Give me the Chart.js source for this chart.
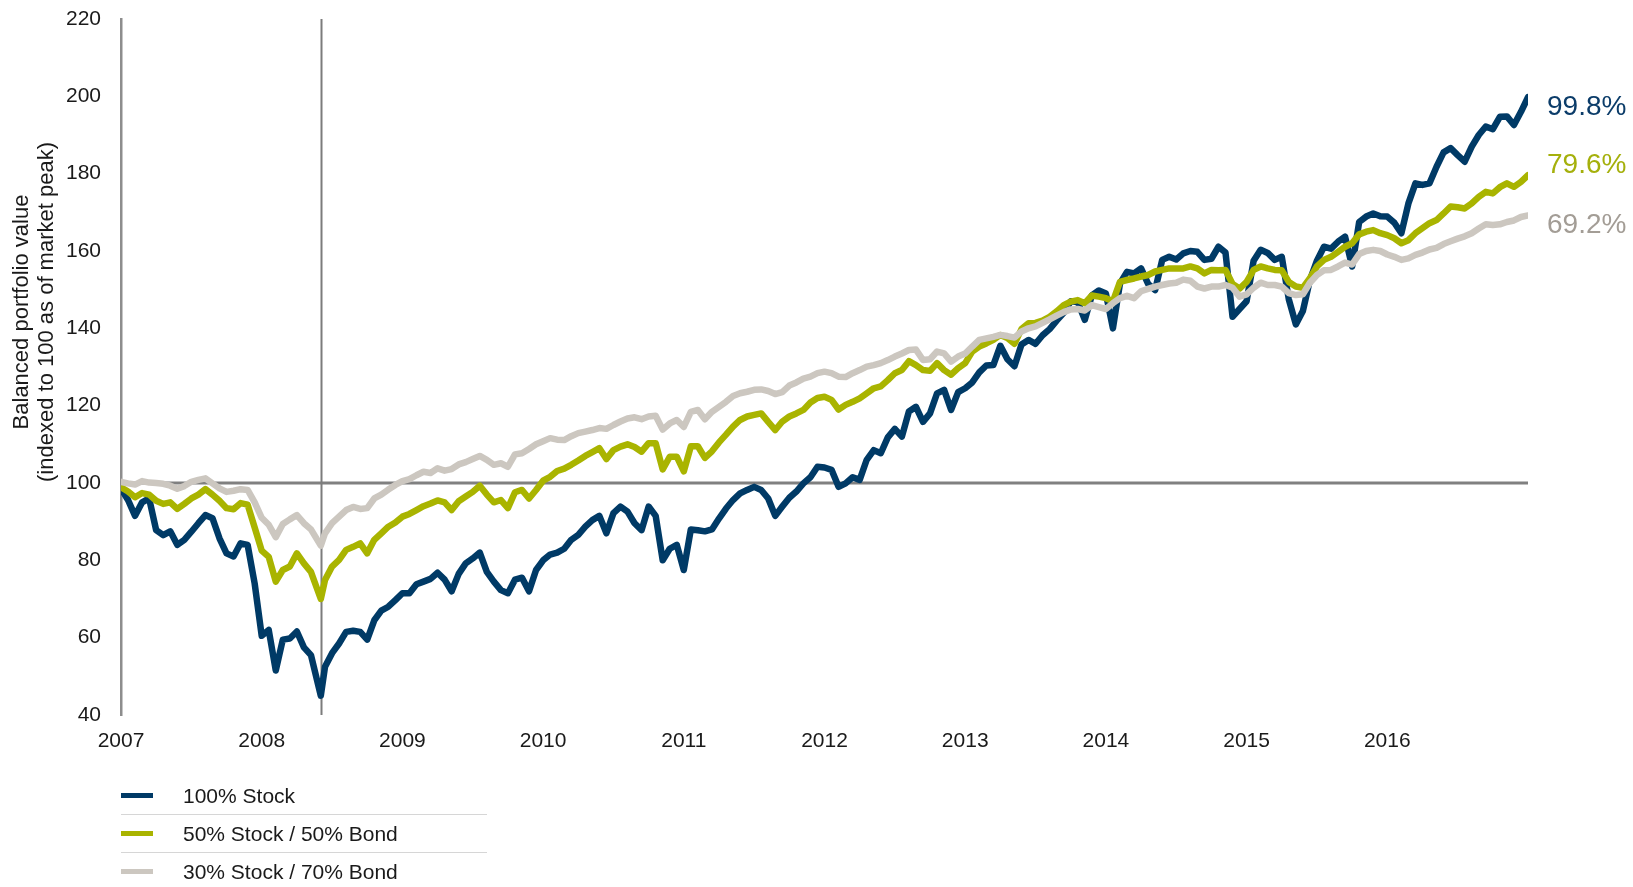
<!DOCTYPE html>
<html>
<head>
<meta charset="utf-8">
<script src="https://cdn.jsdelivr.net/npm/chart.js@4.4.1/dist/chart.umd.min.js"></script>
<style>
  html, body { margin: 0; padding: 0; background: #fff; }
  #wrap { position: relative; width: 1633px; height: 887px; overflow: hidden; }
  #chart { position: absolute; left: 0; top: 0; }
  .legend {
    position: absolute; left: 121px; top: 777px; width: 366px;
    font-family: "Liberation Sans", Arial, sans-serif; font-size: 21px; color: #1a1a1a;
  }
  .legend .row { position: relative; height: 37px; line-height: 37px; border-bottom: 1.5px solid #d6d6d6; }
  .legend .row:last-child { border-bottom: none; }
  .legend .swatch { position: absolute; left: 0; top: 16px; width: 32px; height: 4.5px; }
  .legend .label { position: absolute; left: 62px; top: 0; white-space: nowrap; }
</style>
</head>
<body>
<div id="wrap">
  <canvas id="chart" width="1633" height="887"></canvas>
  <div class="legend" id="legend"></div>
</div>
<script>
// sampling dates (decimal years), one reading every ~0.05 year
const dates = [
  2007, 2007.05, 2007.1, 2007.15, 2007.2, 2007.25, 2007.3, 2007.35, 2007.4, 2007.45, 2007.5, 2007.55, 2007.6, 2007.65, 2007.7, 2007.75, 2007.8, 2007.85, 2007.9, 2007.95,
  2008, 2008.05, 2008.1, 2008.15, 2008.2, 2008.25, 2008.3, 2008.35, 2008.42, 2008.45, 2008.5, 2008.55, 2008.6, 2008.65, 2008.7, 2008.75, 2008.8, 2008.85, 2008.9, 2008.95,
  2009, 2009.05, 2009.1, 2009.15, 2009.2, 2009.25, 2009.3, 2009.35, 2009.4, 2009.45, 2009.5, 2009.55, 2009.6, 2009.65, 2009.7, 2009.75, 2009.8, 2009.85, 2009.9, 2009.95,
  2010, 2010.05, 2010.1, 2010.15, 2010.2, 2010.25, 2010.3, 2010.35, 2010.4, 2010.45, 2010.5, 2010.55, 2010.6, 2010.65, 2010.7, 2010.75, 2010.8, 2010.85, 2010.9, 2010.95,
  2011, 2011.05, 2011.1, 2011.15, 2011.2, 2011.25, 2011.3, 2011.35, 2011.4, 2011.45, 2011.5, 2011.55, 2011.6, 2011.65, 2011.7, 2011.75, 2011.8, 2011.85, 2011.9, 2011.95,
  2012, 2012.05, 2012.1, 2012.15, 2012.2, 2012.25, 2012.3, 2012.35, 2012.4, 2012.45, 2012.5, 2012.55, 2012.6, 2012.65, 2012.7, 2012.75, 2012.8, 2012.85, 2012.9, 2012.95,
  2013, 2013.05, 2013.1, 2013.15, 2013.2, 2013.25, 2013.3, 2013.35, 2013.4, 2013.45, 2013.5, 2013.55, 2013.6, 2013.65, 2013.7, 2013.75, 2013.8, 2013.85, 2013.9, 2013.95,
  2014, 2014.05, 2014.1, 2014.15, 2014.2, 2014.25, 2014.3, 2014.35, 2014.4, 2014.45, 2014.5, 2014.55, 2014.6, 2014.65, 2014.7, 2014.75, 2014.8, 2014.85, 2014.9, 2014.95,
  2015, 2015.05, 2015.1, 2015.15, 2015.2, 2015.25, 2015.3, 2015.35, 2015.4, 2015.45, 2015.5, 2015.55, 2015.6, 2015.65, 2015.7, 2015.75, 2015.8, 2015.85, 2015.9, 2015.95,
  2016, 2016.05, 2016.1, 2016.15, 2016.2, 2016.25, 2016.3, 2016.35, 2016.4, 2016.45, 2016.5, 2016.55, 2016.6, 2016.65, 2016.7, 2016.75, 2016.8, 2016.85, 2016.9, 2016.95,
  2017
];

const stock100 = [
  98.6, 95.6, 91.5, 95.0, 96.0, 87.8, 86.5, 87.5, 84.0, 85.3, 87.4, 89.6, 91.7, 90.9, 85.7, 81.8, 81.0, 84.4, 84.0, 74.0,
  60.5, 62.0, 51.5, 59.5, 59.8, 61.6, 57.5, 55.5, 45.0, 52.5, 56.0, 58.5, 61.5, 61.8, 61.5, 59.5, 64.5, 67.0, 68.0, 69.7,
  71.5, 71.5, 73.8, 74.5, 75.2, 76.8, 75.0, 72.0, 76.5, 79.2, 80.5, 82.0, 77.0, 74.5, 72.3, 71.5, 75.0, 75.5, 72.0, 77.5,
  80.0, 81.5, 82.0, 83.0, 85.3, 86.6, 88.7, 90.4, 91.5, 87.0, 92.2, 93.9, 92.6, 89.6, 87.8, 93.9, 91.5, 80.0, 83.0, 84.0,
  77.5, 88.0, 87.8, 87.5, 88.0, 90.8, 93.4, 95.6, 97.3, 98.2, 99.0, 98.2, 96.0, 91.5, 93.9, 96.2, 97.8, 99.9, 101.5, 104.2,
  104.0, 103.4, 99.0, 99.9, 101.5, 100.8, 106.0, 108.5, 107.7, 111.8, 114.0, 112.0, 118.5, 119.7, 115.8, 118.0, 123.2, 124.1, 118.9, 123.5,
  124.5, 126.0, 128.6, 130.4, 130.5, 135.5, 132.0, 130.2, 135.8, 137.0, 136.0, 138.2, 139.8, 142.0, 144.0, 147.0, 146.8, 142.2, 148.5, 149.8,
  149.0, 140.0, 151.6, 154.6, 154.2, 155.5, 151.5, 149.9, 157.7, 158.5, 157.8, 159.4, 160.0, 159.8, 157.7, 158.0, 161.1, 159.6, 143.0, 145.0,
  147.0, 157.5, 160.3, 159.5, 157.7, 158.5, 147.5, 141.0, 144.5, 152.5, 157.5, 161.1, 160.6, 162.4, 163.7, 156.0, 167.5, 168.9, 169.7, 169.0,
  168.9, 167.3, 164.6, 172.3, 177.5, 177.1, 177.5, 181.8, 185.5, 186.6, 184.8, 183.1, 187.0, 190.0, 192.2, 191.5, 194.7, 194.8, 192.6, 196.0,
  199.8
];

const stock50bond50 = [
  98.9, 97.8, 96.3, 97.4, 97.0, 95.4, 94.6, 95.0, 93.3, 94.6, 96.0, 97.0, 98.4, 97.0, 95.4, 93.5, 93.2, 94.8, 94.4, 88.5,
  82.5, 80.9, 74.5, 77.5, 78.4, 81.8, 79.2, 77.0, 70.0, 74.9, 78.4, 80.1, 82.7, 83.5, 84.4, 81.8, 85.3, 87.0, 88.7, 89.8,
  91.3, 92.0, 93.0, 94.0, 94.7, 95.5, 95.0, 93.0, 95.3, 96.5, 97.7, 99.3, 97.0, 95.0, 95.6, 93.5, 97.6, 98.2, 96.0, 98.2,
  100.6, 101.6, 103.1, 103.7, 104.7, 105.8, 107.0, 108.0, 109.0, 106.2, 108.5, 109.4, 110.0, 109.3, 108.1, 110.3, 110.3, 103.5, 106.8, 106.8,
  103.0, 109.5, 109.5, 106.5, 108.2, 110.5, 112.5, 114.6, 116.3, 117.2, 117.6, 118.0, 115.8, 113.7, 115.9, 117.2, 118.0, 118.9, 120.8, 122.0,
  122.3, 121.5, 119.0, 120.2, 121.0, 121.9, 123.2, 124.5, 125.0, 126.6, 128.4, 129.2, 131.5, 130.5, 129.2, 129.0, 131.0, 129.2, 128.0, 129.7,
  131.0, 134.0, 135.3, 136.1, 137.0, 138.3, 137.5, 136.0, 139.8, 141.3, 141.4, 142.0, 143.0, 144.4, 146.0, 146.9, 147.3, 146.5, 148.5, 148.2,
  147.8, 147.0, 152.0, 152.5, 152.9, 153.4, 153.8, 154.7, 155.1, 155.5, 155.5, 155.5, 156.0, 155.5, 154.2, 155.1, 155.0, 155.1, 151.5, 150.3,
  152.0, 155.1, 156.0, 155.5, 155.1, 155.0, 152.0, 150.8, 150.5, 153.0, 156.0, 157.7, 158.5, 159.8, 161.1, 162.0, 164.3, 165.0, 165.4, 164.6,
  164.1, 163.3, 162.0, 162.8, 164.6, 165.9, 167.2, 168.0, 169.7, 171.5, 171.3, 171.0, 172.3, 174.0, 175.3, 174.9, 176.5, 177.5, 176.6, 177.9,
  179.6
];

const stock30bond70 = [
  100.3, 99.9, 99.6, 100.5, 100.1, 100.0, 99.8, 99.3, 98.5, 99.2, 100.3, 100.8, 101.2, 99.9, 98.6, 97.7, 98.0, 98.4, 98.2, 95.0,
  91.0, 89.2, 86.0, 89.4, 90.6, 91.7, 89.6, 88.0, 83.8, 87.0, 89.6, 91.3, 93.0, 93.8, 93.3, 93.5, 96.0, 97.0, 98.3, 99.5,
  100.5, 101.0, 102.0, 102.9, 102.6, 103.8, 103.2, 103.6, 104.8, 105.4, 106.2, 107.0, 106.0, 104.7, 105.1, 104.2, 107.4, 107.7, 108.8, 110.0,
  110.8, 111.6, 111.2, 111.1, 112.1, 112.9, 113.3, 113.7, 114.2, 114.0, 115.0, 115.9, 116.7, 117.0, 116.5, 117.2, 117.4, 113.8, 115.4, 116.3,
  114.5, 118.4, 118.9, 116.5, 118.4, 119.7, 121.0, 122.5, 123.2, 123.6, 124.1, 124.2, 123.8, 123.0, 123.5, 125.2, 126.0, 127.0, 127.5, 128.4,
  128.8, 128.4, 127.5, 127.4, 128.4, 129.2, 130.1, 130.5, 131.0, 131.8, 132.7, 133.5, 134.4, 134.5, 131.8, 132.0, 134.0, 133.5, 131.4, 132.7,
  133.5, 135.3, 137.0, 137.4, 137.8, 138.3, 138.0, 137.6, 139.2, 140.0, 140.5, 141.4, 142.3, 143.3, 144.2, 144.9, 145.0, 144.6, 146.0, 145.5,
  145.0, 146.5, 147.8, 148.4, 147.8, 149.6, 150.2, 150.8, 151.2, 151.6, 151.8, 152.6, 152.3, 150.8, 150.3, 150.8, 150.8, 151.2, 150.5, 148.2,
  148.8, 150.5, 151.8, 151.2, 151.2, 150.8, 149.1, 148.6, 148.8, 151.8, 153.8, 155.0, 155.1, 156.0, 157.0, 156.5, 159.2, 160.0, 160.3, 160.0,
  159.1, 158.5, 157.7, 158.1, 159.0, 159.6, 160.4, 160.8, 161.8, 162.5, 163.2, 163.8, 164.6, 165.8, 166.9, 166.7, 166.9, 167.5, 167.9, 168.8,
  169.2
];

const seriesNames = ["100% Stock", "50% Stock / 50% Bond", "30% Stock / 70% Bond"];
const endLabels = ["99.8%", "79.6%", "69.2%"];
const yearTicks = [2007, 2008, 2009, 2010, 2011, 2012, 2013, 2014, 2015, 2016];
const yTitle = ["Balanced portfolio value", "(indexed to 100 as of market peak)"];
const baseline = 100;       // index level at the market peak
const troughDate = 2008.42; // market trough marker

const lineColors = ["#003a66", "#a9b400", "#ccc7c0"];
const labelColors = ["#0b3c69", "#a5b00c", "#a39d96"];
const labelOffsets = [10, -10, 10];
const FONT = '"Liberation Sans", Arial, sans-serif';

Chart.defaults.font.family = FONT;
Chart.defaults.color = "#1a1a1a";

function toPoints(values) {
   return dates.map((d, i) => ({ x: d, y: values[i] }));
}

const refLines = {
   id: "refLines",
   beforeDatasetsDraw(chart) {
      const { ctx, chartArea, scales } = chart;
      const y = Math.round(scales.y.getPixelForValue(baseline));
      const x = Math.round(scales.x.getPixelForValue(troughDate)) + 0.5;
      ctx.save();
      ctx.strokeStyle = "#808080";
      ctx.lineWidth = 3;
      ctx.beginPath();
      ctx.moveTo(chartArea.left, y);
      ctx.lineTo(chartArea.right, y);
      ctx.stroke();
      ctx.strokeStyle = "#7c7c7c";
      ctx.lineWidth = 2;
      ctx.beginPath();
      ctx.moveTo(x, chartArea.top);
      ctx.lineTo(x, chartArea.bottom);
      ctx.stroke();
      ctx.restore();
   }
};

// y-axis title, sits above the plot's middle like the original
const yTitlePlugin = {
   id: "yTitle",
   afterDraw(chart) {
      const { ctx } = chart;
      ctx.save();
      ctx.font = "22px " + FONT;
      ctx.fillStyle = "#1a1a1a";
      ctx.textAlign = "center";
      ctx.textBaseline = "middle";
      yTitle.forEach((line, i) => {
         ctx.save();
         ctx.translate(22 + i * 25, 312);
         ctx.rotate(-Math.PI / 2);
         ctx.fillText(line, 0, 0);
         ctx.restore();
      });
      ctx.restore();
   }
};

const endLabelPlugin = {
   id: "endLabels",
   afterDatasetsDraw(chart) {
      const { ctx, chartArea, scales } = chart;
      ctx.save();
      ctx.font = "28px " + FONT;
      ctx.textAlign = "left";
      ctx.textBaseline = "middle";
      chart.data.datasets.forEach((ds, i) => {
         const last = ds.data[ds.data.length - 1].y;
         ctx.fillStyle = labelColors[i];
         ctx.fillText(endLabels[i], chartArea.right + 19, scales.y.getPixelForValue(last) + labelOffsets[i]);
      });
      ctx.restore();
   }
};

const seriesValues = [stock100, stock50bond50, stock30bond70];

const ctx = document.getElementById("chart").getContext("2d");
new Chart(ctx, {
   type: "line",
   data: {
      datasets: seriesValues.map((vals, i) => ({
         label: seriesNames[i],
         data: toPoints(vals),
         borderColor: lineColors[i],
         borderWidth: 6.5,
         pointRadius: 0,
         tension: 0,
         borderJoinStyle: "round",
         borderCapStyle: "round",
         order: 3 - i,
      })),
   },
   options: {
      responsive: false,
      animation: false,
      devicePixelRatio: 1,
      layout: { padding: { left: 0, top: 19, right: 105, bottom: 122 } },
      plugins: { legend: { display: false }, tooltip: { enabled: false } },
      scales: {
         x: {
            type: "linear",
            min: 2007,
            max: 2017,
            grid: { display: false, drawTicks: false },
            border: { display: false },
            afterBuildTicks: (axis) => { axis.ticks = yearTicks.map((v) => ({ value: v })); },
            afterFit: (scale) => { scale.height = 50; },
            ticks: {
               padding: 14,
               autoSkip: false,
               maxRotation: 0,
               font: { size: 21 },
               color: "#1a1a1a",
               callback: (v) => String(v),
            },
         },
         y: {
            min: 40,
            max: 220,
            grid: { display: false, drawTicks: false },
            border: { display: true, color: "#8d8d8d", width: 2.5 },
            afterFit: (scale) => {
               scale.width = 121;
               scale.paddingTop = 0;
               scale.paddingBottom = 0;
            },
            ticks: { stepSize: 20, padding: 20, font: { size: 21 }, color: "#1a1a1a" },
         },
      },
   },
   plugins: [refLines, endLabelPlugin, yTitlePlugin],
});

// legend below the chart
const legend = document.getElementById("legend");
seriesNames.forEach((name, i) => {
   const row = document.createElement("div");
   row.className = "row";
   row.innerHTML = '<span class="swatch" style="background:' + lineColors[i] + '"></span><span class="label">' + name + "</span>";
   legend.appendChild(row);
});
</script>
</body>
</html>
